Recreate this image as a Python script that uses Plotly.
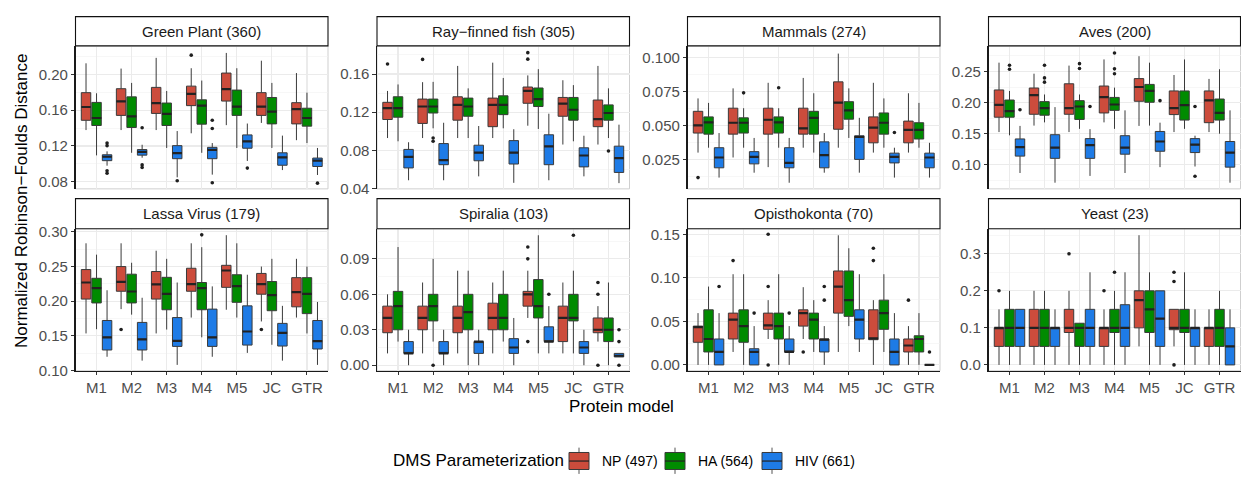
import plotly.graph_objects as go

W, H = 1241, 478
FONT = "Liberation Sans, Arial, Helvetica, sans-serif"

MODELS = ["M1", "M2", "M3", "M4", "M5", "JC", "GTR"]
GROUPS = ["NP (497)", "HA (564)", "HIV (661)"]
COLORS = ["#CC4C3C", "#008B00", "#1E7BE6"]
LEGEND_TITLE = "DMS Parameterization"
X_TITLE = "Protein model"
Y_TITLE = "Normalized Robinson\u2212Foulds Distance"

# each row: [lower whisker, q1, median, q3, upper whisker] for M1..GTR
# outliers: (model index, value)
GP_NP = [[0.1378, 0.1487, 0.1636, 0.1796, 0.2124], [0.1378, 0.1542, 0.1698, 0.1840, 0.2065],
         [0.1378, 0.1564, 0.1680, 0.1855, 0.2185], [0.1342, 0.1651, 0.1782, 0.1869, 0.2069],
         [0.1433, 0.1702, 0.1836, 0.2015, 0.2240], [0.1458, 0.1542, 0.1640, 0.1796, 0.2153],
         [0.1265, 0.1447, 0.1611, 0.1684, 0.2015]]
GP_HA = [[0.1095, 0.1429, 0.1513, 0.1687, 0.1789], [0.1124, 0.1407, 0.1531, 0.1749, 0.1905],
         [0.1178, 0.1429, 0.1560, 0.1680, 0.1815], [0.1124, 0.1444, 0.1651, 0.1716, 0.1931],
         [0.1178, 0.1542, 0.1640, 0.1825, 0.2069], [0.1178, 0.1447, 0.1585, 0.1742, 0.1905],
         [0.1233, 0.1422, 0.1513, 0.1622, 0.1796]]
GP_HIV = [[0.0980, 0.1036, 0.1080, 0.1102, 0.1140], [0.1069, 0.1098, 0.1135, 0.1160, 0.1214],
          [0.0850, 0.1058, 0.1120, 0.1204, 0.1367], [0.0880, 0.1058, 0.1156, 0.1185, 0.1233],
          [0.1033, 0.1175, 0.1251, 0.1324, 0.1451], [0.0931, 0.0985, 0.1073, 0.1124, 0.1316],
          [0.0876, 0.0971, 0.1036, 0.1065, 0.1178]]
GP_OUT_NP = [(3, 0.2215)]
GP_OUT_HA = []
GP_OUT_HIV = [(0, 0.1233), (0, 0.1204), (0, 0.0924), (0, 0.0895), (1, 0.1404), (1, 0.0989),
              (1, 0.0960), (2, 0.0811), (3, 0.1487), (3, 0.1396), (3, 0.0789), (4, 0.0953),
              (6, 0.0785)]

RF_NP = [[0.0930, 0.1124, 0.1243, 0.1304, 0.1423], [0.0930, 0.1083, 0.1260, 0.1338, 0.1515],
         [0.0930, 0.1117, 0.1277, 0.1362, 0.1685], [0.0930, 0.1049, 0.1277, 0.1348, 0.1719],
         [0.1059, 0.1294, 0.1423, 0.1464, 0.1586], [0.0862, 0.1158, 0.1291, 0.1355, 0.1535],
         [0.0862, 0.1049, 0.1127, 0.1328, 0.1685]]
RF_HA = [[0.0896, 0.1148, 0.1243, 0.1362, 0.1491], [0.1032, 0.1192, 0.1260, 0.1338, 0.1518],
         [0.0930, 0.1158, 0.1260, 0.1348, 0.1450], [0.1032, 0.1175, 0.1277, 0.1372, 0.1559],
         [0.1025, 0.1260, 0.1338, 0.1454, 0.1651], [0.0896, 0.1117, 0.1226, 0.1355, 0.1484],
         [0.0930, 0.1117, 0.1192, 0.1277, 0.1450]]
RF_HIV = [[0.0488, 0.0617, 0.0733, 0.0811, 0.0886], [0.0488, 0.0651, 0.0699, 0.0872, 0.1090],
          [0.0529, 0.0692, 0.0777, 0.0855, 0.1056], [0.0461, 0.0658, 0.0777, 0.0903, 0.1022],
          [0.0488, 0.0651, 0.0842, 0.0964, 0.1185], [0.0529, 0.0628, 0.0747, 0.0828, 0.0954],
          [0.0458, 0.0570, 0.0720, 0.0845, 0.1070]]
RF_OUT_NP = [(0, 0.1705), (1, 0.1753), (4, 0.1824), (4, 0.1756)]
RF_OUT_HA = [(1, 0.0930), (1, 0.0896), (6, 0.0794)]
RF_OUT_HIV = []

MA_NP = [[0.0300, 0.0444, 0.0501, 0.0604, 0.0699], [0.0264, 0.0436, 0.0520, 0.0627, 0.0773],
         [0.0193, 0.0436, 0.0542, 0.0627, 0.0814], [0.0336, 0.0436, 0.0479, 0.0627, 0.0850],
         [0.0336, 0.0472, 0.0668, 0.0821, 0.1029], [0.0300, 0.0372, 0.0484, 0.0563, 0.0814],
         [0.0300, 0.0372, 0.0467, 0.0532, 0.0737]]
MA_HA = [[0.0336, 0.0436, 0.0522, 0.0563, 0.0666], [0.0336, 0.0444, 0.0520, 0.0556, 0.0627],
         [0.0336, 0.0444, 0.0522, 0.0563, 0.0627], [0.0300, 0.0436, 0.0556, 0.0604, 0.0737],
         [0.0408, 0.0546, 0.0611, 0.0675, 0.0773], [0.0336, 0.0436, 0.0520, 0.0592, 0.0699],
         [0.0336, 0.0400, 0.0467, 0.0520, 0.0666]]
MA_HIV = [[0.0116, 0.0188, 0.0264, 0.0336, 0.0444], [0.0152, 0.0217, 0.0269, 0.0307, 0.0408],
          [0.0078, 0.0188, 0.0224, 0.0336, 0.0408], [0.0152, 0.0188, 0.0281, 0.0379, 0.0444],
          [0.0152, 0.0250, 0.0415, 0.0424, 0.0556], [0.0116, 0.0224, 0.0269, 0.0296, 0.0336],
          [0.0116, 0.0188, 0.0264, 0.0296, 0.0372]]
MA_OUT_NP = [(0, 0.0116)]
MA_OUT_HA = [(1, 0.0740), (2, 0.0778)]
MA_OUT_HIV = [(5, 0.0448)]

AV_NP = [[0.1526, 0.1765, 0.1963, 0.2203, 0.2641], [0.1630, 0.1812, 0.2120, 0.2234, 0.2464],
         [0.1526, 0.1812, 0.1911, 0.2302, 0.2594], [0.1682, 0.1833, 0.2088, 0.2266, 0.2693],
         [0.1625, 0.2021, 0.2250, 0.2385, 0.2745], [0.1526, 0.1807, 0.1911, 0.2187, 0.2443],
         [0.1526, 0.1677, 0.2036, 0.2187, 0.2380]]
AV_HA = [[0.1474, 0.1765, 0.1864, 0.2041, 0.2187], [0.1682, 0.1797, 0.1911, 0.2015, 0.2130],
         [0.1578, 0.1729, 0.1937, 0.2031, 0.2130], [0.1578, 0.1875, 0.1969, 0.2083, 0.2240],
         [0.1630, 0.2005, 0.2187, 0.2292, 0.2641], [0.1578, 0.1719, 0.1958, 0.2187, 0.2693],
         [0.1500, 0.1719, 0.1833, 0.2057, 0.2536]]
AV_HIV = [[0.0869, 0.1140, 0.1286, 0.1416, 0.1625], [0.0713, 0.1104, 0.1276, 0.1484, 0.1927],
          [0.0822, 0.1104, 0.1317, 0.1421, 0.1573], [0.0869, 0.1171, 0.1276, 0.1468, 0.1875],
          [0.0963, 0.1218, 0.1375, 0.1536, 0.1677], [0.0973, 0.1197, 0.1323, 0.1421, 0.1468],
          [0.0713, 0.0963, 0.1197, 0.1375, 0.1875]]
AV_OUT_NP = []
AV_OUT_HA = [(0, 0.2599), (0, 0.2536), (1, 0.2599), (1, 0.2396), (1, 0.2328), (2, 0.2625),
             (2, 0.2547), (3, 0.2797), (3, 0.2542), (3, 0.2464)]
AV_OUT_HIV = [(0, 0.1885), (2, 0.1937), (4, 0.2031), (5, 0.1937), (5, 0.0817)]

LV_NP = [[0.1535, 0.2031, 0.2270, 0.2457, 0.2836], [0.1886, 0.2144, 0.2279, 0.2500, 0.2836],
         [0.1535, 0.2031, 0.2242, 0.2429, 0.2729], [0.1764, 0.2144, 0.2247, 0.2476, 0.2836],
         [0.1877, 0.2200, 0.2443, 0.2518, 0.2953], [0.1708, 0.2101, 0.2247, 0.2401, 0.2500],
         [0.1764, 0.1919, 0.2130, 0.2340, 0.2612]]
LV_HA = [[0.1596, 0.1975, 0.2190, 0.2331, 0.2672], [0.1806, 0.1975, 0.2140, 0.2390, 0.2555],
         [0.1591, 0.1877, 0.2106, 0.2345, 0.2612], [0.1479, 0.1877, 0.2190, 0.2270, 0.2780],
         [0.1764, 0.1984, 0.2218, 0.2382, 0.2836], [0.1371, 0.1863, 0.2087, 0.2284, 0.2612],
         [0.1535, 0.1821, 0.2106, 0.2340, 0.2500]]
LV_HIV = [[0.1198, 0.1296, 0.1479, 0.1722, 0.2158], [0.1142, 0.1296, 0.1450, 0.1694, 0.2050],
          [0.1081, 0.1348, 0.1427, 0.1764, 0.2270], [0.1198, 0.1348, 0.1479, 0.1886, 0.2214],
          [0.1254, 0.1367, 0.1563, 0.1933, 0.2382], [0.1142, 0.1353, 0.1544, 0.1680, 0.1933],
          [0.1081, 0.1310, 0.1423, 0.1722, 0.1989]]
LV_OUT_NP = [(1, 0.1591), (5, 0.1591)]
LV_OUT_HA = [(3, 0.2958)]
LV_OUT_HIV = []

SP_NP = [[0.010, 0.0275, 0.040, 0.050, 0.060], [0.010, 0.030, 0.040, 0.050, 0.070],
         [0.010, 0.0275, 0.040, 0.050, 0.080], [0.010, 0.030, 0.040, 0.0525, 0.070],
         [0.040, 0.050, 0.060, 0.0625, 0.080], [0.010, 0.020, 0.040, 0.050, 0.070],
         [0.020, 0.0275, 0.030, 0.040, 0.050]]
SP_HA = [[0.020, 0.030, 0.050, 0.0625, 0.100], [0.020, 0.0375, 0.050, 0.060, 0.090],
         [0.000, 0.030, 0.045, 0.060, 0.080], [0.020, 0.030, 0.040, 0.060, 0.080],
         [0.010, 0.040, 0.050, 0.0725, 0.110], [0.010, 0.0375, 0.040, 0.060, 0.080],
         [0.000, 0.020, 0.030, 0.040, 0.070]]
SP_HIV = [[0.000, 0.010, 0.010, 0.020, 0.030], [0.000, 0.010, 0.010, 0.020, 0.030],
          [0.000, 0.010, 0.020, 0.020, 0.030], [0.000, 0.010, 0.015, 0.0225, 0.040],
          [0.010, 0.020, 0.020, 0.0325, 0.050], [0.000, 0.010, 0.015, 0.020, 0.030],
          [0.007, 0.007, 0.008, 0.010, 0.010]]
SP_OUT_NP = [(4, 0.10), (4, 0.09), (4, 0.02), (6, 0.07), (6, 0.06), (6, 0.0)]
SP_OUT_HA = [(1, 0.0), (5, 0.11)]
SP_OUT_HIV = [(4, 0.06), (6, 0.03), (6, 0.02), (6, 0.0)]

OP_NP = [[0.0000, 0.0260, 0.0435, 0.0446, 0.0595], [0.0149, 0.0298, 0.0521, 0.0595, 0.1042],
         [0.0298, 0.0409, 0.0454, 0.0595, 0.0744], [0.0298, 0.0446, 0.0595, 0.0633, 0.0893],
         [0.0149, 0.0595, 0.0900, 0.1079, 0.1489], [0.0000, 0.0290, 0.0305, 0.0633, 0.0744],
         [0.0000, 0.0149, 0.0223, 0.0298, 0.0446]]
OP_HA = [[0.0000, 0.0149, 0.0298, 0.0633, 0.0900], [0.0000, 0.0260, 0.0446, 0.0633, 0.1042],
         [0.0000, 0.0298, 0.0446, 0.0595, 0.1042], [0.0149, 0.0298, 0.0521, 0.0595, 0.0744],
         [0.0446, 0.0558, 0.0744, 0.1079, 0.1340], [0.0149, 0.0409, 0.0595, 0.0744, 0.1042],
         [0.0000, 0.0149, 0.0298, 0.0335, 0.0595]]
OP_HIV = [[0.0000, 0.0000, 0.0149, 0.0298, 0.0595], [0.0000, 0.0000, 0.0149, 0.0186, 0.0446],
          [0.0000, 0.0149, 0.0149, 0.0298, 0.0446], [0.0000, 0.0149, 0.0290, 0.0298, 0.0446],
          [0.0149, 0.0298, 0.0521, 0.0633, 0.1042], [0.0000, 0.0000, 0.0149, 0.0298, 0.0595],
          [0.0000, 0.0000, 0.0000, 0.0000, 0.0000]]
OP_OUT_NP = [(1, 0.1198), (2, 0.15), (2, 0.09), (2, 0.0), (3, 0.0149), (5, 0.134),
             (5, 0.1198), (6, 0.0744)]
OP_OUT_HA = []
OP_OUT_HIV = [(0, 0.09), (1, 0.0595), (2, 0.0595), (3, 0.09), (3, 0.0744), (6, 0.0149)]

YE_NP = [[0.0, 0.05, 0.10, 0.10, 0.15], [0.0, 0.05, 0.10, 0.15, 0.20],
         [0.0, 0.0875, 0.10, 0.15, 0.20], [0.0, 0.05, 0.10, 0.10, 0.15],
         [0.05, 0.10, 0.175, 0.20, 0.35], [0.05, 0.095, 0.10, 0.15, 0.15],
         [0.0, 0.05, 0.10, 0.10, 0.15]]
YE_HA = [[0.0, 0.05, 0.10, 0.15, 0.20], [0.0, 0.05, 0.10, 0.15, 0.20],
         [0.0, 0.05, 0.10, 0.1125, 0.1125], [0.0, 0.0875, 0.10, 0.15, 0.20],
         [0.0, 0.0875, 0.15, 0.20, 0.25], [0.0, 0.0875, 0.10, 0.15, 0.25],
         [0.0, 0.05, 0.10, 0.15, 0.20]]
YE_HIV = [[0.0, 0.05, 0.10, 0.15, 0.15], [0.0, 0.05, 0.10, 0.10, 0.15],
          [0.0, 0.05, 0.10, 0.15, 0.25], [0.0, 0.05, 0.10, 0.1625, 0.25],
          [0.0, 0.05, 0.125, 0.20, 0.20], [0.0, 0.05, 0.10, 0.10, 0.15],
          [0.0, 0.0, 0.05, 0.10, 0.15]]
YE_OUT_NP = [(0, 0.2), (2, 0.3), (3, 0.2), (5, 0.25), (5, 0.225), (5, 0.0)]
YE_OUT_HA = [(3, 0.25)]
YE_OUT_HIV = []

PANEL_TITLES = ["Green Plant (360)", "Ray\u2212finned fish (305)", "Mammals (274)", "Aves (200)",
                "Lassa Virus (179)", "Spiralia (103)", "Opisthokonta (70)", "Yeast (23)"]
Y_RANGES = [(0.0721, 0.2319), (0.0398, 0.1895), (0.0033, 0.1086), (0.0614, 0.2911),
            (0.0996, 0.3046), (-0.0047, 0.1155), (-0.0067, 0.1564), (-0.0158, 0.3675)]
Y_TICK0 = [0.08, 0.04, 0.025, 0.10, 0.10, 0.0, 0.0, 0.0]
Y_DTICK = [0.04, 0.04, 0.025, 0.05, 0.05, 0.03, 0.05, 0.1]
Y_FMT = [".2f", ".2f", ".3f", ".2f", ".2f", ".2f", ".2f", ".1f"]

STATS = [(GP_NP, GP_HA, GP_HIV), (RF_NP, RF_HA, RF_HIV), (MA_NP, MA_HA, MA_HIV),
         (AV_NP, AV_HA, AV_HIV), (LV_NP, LV_HA, LV_HIV), (SP_NP, SP_HA, SP_HIV),
         (OP_NP, OP_HA, OP_HIV), (YE_NP, YE_HA, YE_HIV)]
OUTS = [(GP_OUT_NP, GP_OUT_HA, GP_OUT_HIV), (RF_OUT_NP, RF_OUT_HA, RF_OUT_HIV),
        (MA_OUT_NP, MA_OUT_HA, MA_OUT_HIV), (AV_OUT_NP, AV_OUT_HA, AV_OUT_HIV),
        (LV_OUT_NP, LV_OUT_HA, LV_OUT_HIV), (SP_OUT_NP, SP_OUT_HA, SP_OUT_HIV),
        (OP_OUT_NP, OP_OUT_HA, OP_OUT_HIV), (YE_OUT_NP, YE_OUT_HA, YE_OUT_HIV)]

# ---------------- layout geometry (pixels) ----------------
COL_X = [(75.5, 328.0), (377.0, 629.5), (687.5, 940.0), (988.5, 1240.5)]
ROW_Y = [(42.0, 189.0), (230.0, 376.0)]       # plot area top, bottom
STRIP_Y = [(12.0, 42.0), (199.0, 230.0)]
OFFSETS = [-0.3, 0.0, 0.3]
BOXW = 0.27
TICK_SIZE = 15
STRIP_SIZE = 15


def px(x):
    return x / W


def py(y):
    return 1 - y / H


fig = go.Figure()
layout = dict(width=W, height=H, margin=dict(l=0, r=0, t=0, b=0),
              paper_bgcolor="white", plot_bgcolor="white", showlegend=False,
              font=dict(family=FONT), boxmode="overlay")
shapes = []
annotations = []

for k in range(8):
    r, c = divmod(k, 4)
    xl, xr = COL_X[c]
    yt, yb = ROW_Y[r]
    xa, ya = f"x{k + 1}", f"y{k + 1}"
    for g in range(3):
        st = STATS[k][g]
        pos = [i + 1 + OFFSETS[g] for i in range(len(MODELS))]
        fig.add_trace(go.Box(
            x=pos, lowerfence=[s[0] for s in st], q1=[s[1] for s in st],
            median=[s[2] for s in st], q3=[s[3] for s in st],
            upperfence=[s[4] for s in st], orientation="v", width=BOXW,
            fillcolor=COLORS[g], line=dict(color="#3A3A3A", width=1),
            whiskerwidth=0, boxpoints=False, hoverinfo="skip",
            xaxis=xa, yaxis=ya, name=GROUPS[g]))
        mx, my = [], []
        for p, s in zip(pos, st):
            mx += [p - BOXW / 2, p + BOXW / 2, None]
            my += [s[2], s[2], None]
        fig.add_trace(go.Scatter(x=mx, y=my, mode="lines",
                                 line=dict(color="#222222", width=2.2),
                                 hoverinfo="skip", xaxis=xa, yaxis=ya))
        out = OUTS[k][g]
        if out:
            fig.add_trace(go.Scatter(
                x=[o[0] + 1 + OFFSETS[g] for o in out], y=[o[1] for o in out],
                mode="markers", marker=dict(color="#1F1F1F", size=3.6),
                hoverinfo="skip", xaxis=xa, yaxis=ya))

    bottom = (r == 1)
    layout[f"xaxis{k + 1}"] = dict(
        domain=[px(xl), px(xr)], range=[0.4, 7.6], anchor=ya,
        tickmode="array", tickvals=list(range(1, 8)), ticktext=MODELS,
        showticklabels=bottom, ticks="outside" if bottom else "",
        ticklen=3.5, tickwidth=1, tickcolor="#333333",
        tickfont=dict(size=TICK_SIZE, color="#4D4D4D", family=FONT),
        showgrid=True, gridcolor="#EBEBEB", gridwidth=1.1, zeroline=False,
        showline=bottom, linecolor="#1A1A1A", linewidth=1.1, fixedrange=True)
    lo, hi = Y_RANGES[k]
    layout[f"yaxis{k + 1}"] = dict(
        domain=[py(yb), py(yt)], range=[lo, hi], anchor=xa,
        tickmode="linear", tick0=Y_TICK0[k], dtick=Y_DTICK[k], tickformat=Y_FMT[k],
        ticks="outside", ticklen=3.5, tickwidth=1, tickcolor="#333333",
        tickfont=dict(size=TICK_SIZE, color="#4D4D4D", family=FONT),
        showgrid=True, gridcolor="#EBEBEB", gridwidth=1.1, zeroline=False,
        showline=True, linecolor="#1A1A1A", linewidth=1.1, fixedrange=True,
        minor=dict(tick0=Y_TICK0[k], dtick=Y_DTICK[k] / 2, showgrid=True,
                   gridcolor="#F2F2F2", gridwidth=0.6))
    # panel border (light grey)
    shapes.append(dict(type="rect", xref="paper", yref="paper", layer="between",
                       x0=px(xl), x1=px(xr), y0=py(yb), y1=py(yt),
                       line=dict(color="#CFCFCF", width=1), fillcolor="rgba(0,0,0,0)"))
    # strip
    st_t, st_b = STRIP_Y[r]
    shapes.append(dict(type="rect", xref="paper", yref="paper", layer="above",
                       x0=px(xl), x1=px(xr), y0=py(st_b), y1=py(st_t),
                       line=dict(color="#111111", width=1.1), fillcolor="white"))
    annotations.append(dict(xref="paper", yref="paper", x=px((xl + xr) / 2),
                            y=py((st_t + st_b) / 2), text=PANEL_TITLES[k], showarrow=False,
                            xanchor="center", yanchor="middle",
                            font=dict(size=STRIP_SIZE, color="#1A1A1A", family=FONT)))

# axis titles
annotations.append(dict(xref="paper", yref="paper", x=px(621.5), y=py(413), text=X_TITLE,
                        showarrow=False, xanchor="center", yanchor="middle",
                        font=dict(size=17, color="black", family=FONT)))
annotations.append(dict(xref="paper", yref="paper", x=px(21.5), y=py(202), text=Y_TITLE,
                        showarrow=False, xanchor="center", yanchor="middle", textangle=-90,
                        font=dict(size=17, color="black", family=FONT)))

# legend (drawn manually, ggplot style keys)
annotations.append(dict(xref="paper", yref="paper", x=px(391), y=py(468), text=LEGEND_TITLE,
                        showarrow=False, xanchor="left", yanchor="middle",
                        font=dict(size=17, color="black", family=FONT)))
KEY_X = [569.0, 665.0, 762.0]
KEY_W = 20.0
for g in range(3):
    kx0, kx1 = KEY_X[g], KEY_X[g] + KEY_W
    kc = (kx0 + kx1) / 2
    shapes.append(dict(type="line", xref="paper", yref="paper", x0=px(kc), x1=px(kc),
                       y0=py(455), y1=py(482), line=dict(color="#555555", width=1)))
    shapes.append(dict(type="rect", xref="paper", yref="paper", x0=px(kx0), x1=px(kx1),
                       y0=py(477.5), y1=py(460), fillcolor=COLORS[g],
                       line=dict(color="#3A3A3A", width=1)))
    shapes.append(dict(type="line", xref="paper", yref="paper", x0=px(kx0), x1=px(kx1),
                       y0=py(468.8), y1=py(468.8), line=dict(color="#222222", width=1.2)))
    annotations.append(dict(xref="paper", yref="paper", x=px(kx1 + 11), y=py(468.5),
                            text=GROUPS[g], showarrow=False, xanchor="left",
                            yanchor="middle",
                            font=dict(size=14, color="black", family=FONT)))

layout["shapes"] = shapes
layout["annotations"] = annotations
fig.update_layout(**layout)
fig.write_html("out.html",
               config={"displayModeBar": False, "staticPlot": True},
               post_script="document.body.style.margin='0px';"
                           "document.documentElement.style.overflow='hidden';")
